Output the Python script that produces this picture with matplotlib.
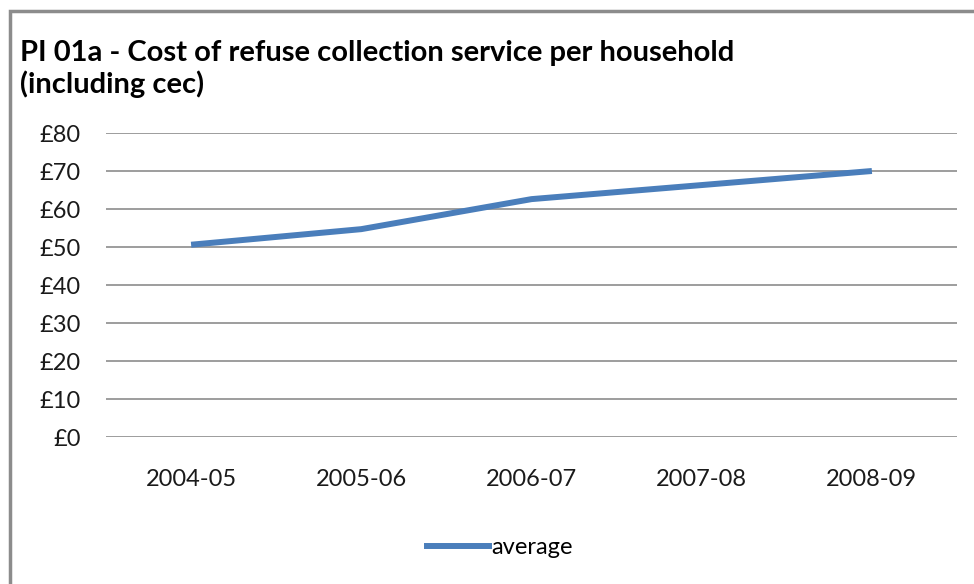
import matplotlib
matplotlib.use("Agg")
import matplotlib.pyplot as plt
from matplotlib.patches import Rectangle
from matplotlib.lines import Line2D

years = ["2004-05", "2005-06", "2006-07", "2007-08", "2008-09"]
average = [50.6, 54.7, 62.6, 66.3, 70.0]
y_ticks = [0, 10, 20, 30, 40, 50, 60, 70, 80]

plt.rcParams['font.family'] = ['Lato', 'DejaVu Sans']

fig = plt.figure(figsize=(9.74, 5.84), dpi=100)
W, H = 974, 584

# chart frame: only the left and top edges fall inside the image
fig.patches.append(Rectangle((10 / W, -0.1), 1.2, (H - 11) / H + 0.1,
                             transform=fig.transFigure, fill=False,
                             edgecolor='#8c8c8c', linewidth=2.5))

ax = fig.add_axes([106 / W, 147 / H, (957 - 106) / W, (437 - 133) / H])
x = range(len(years))
ax.plot(x, average, color='#4a7ebb', linewidth=4.3, solid_capstyle='butt',
        zorder=3, label='average')
ax.set_xlim(-0.5, len(years) - 0.5)
ax.set_ylim(0, 80)
ax.set_yticks(y_ticks)
ax.set_yticklabels([f"£{v}" for v in y_ticks])
ax.set_xticks(list(x))
ax.set_xticklabels(years)
ax.grid(axis='y', color='#8c8c8c', linewidth=1.2)
for s in ax.spines.values():
    s.set_visible(False)
ax.tick_params(length=0, labelsize=17, colors='#1a1a1a')
ax.tick_params(axis='y', pad=18)
ax.tick_params(axis='x', pad=23)

fig.text(20 / W, 1 - 69 / H, "PI 01a - Cost of refuse collection service per household\n(including cec)",
         fontsize=21, fontweight='bold', va='center', ha='left', linespacing=1.2)

handle = Line2D([], [], color='#4a7ebb', linewidth=4.3)
fig.legend([handle], ['average'], loc='center', bbox_to_anchor=(500 / W, 1 - 548 / H),
           frameon=False, fontsize=17, handlelength=2.6, handletextpad=0.1)

fig.savefig("out.png", dpi=100, facecolor='white')
